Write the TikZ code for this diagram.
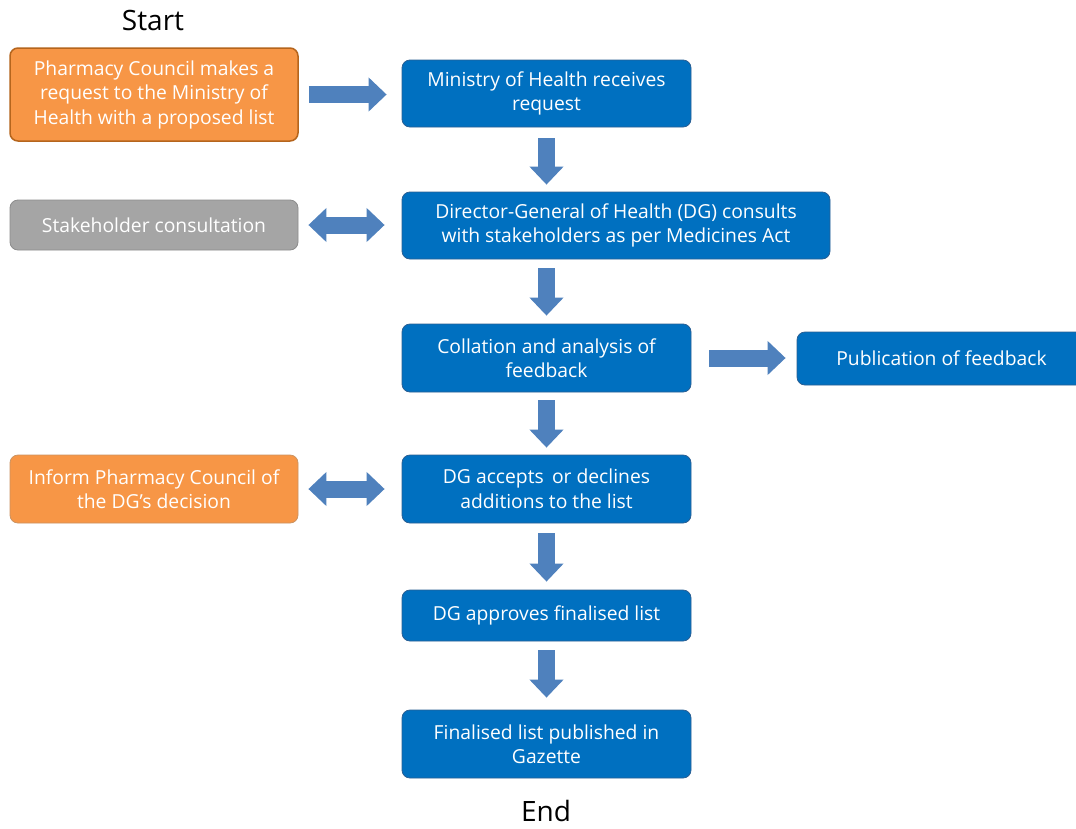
\documentclass[tikz,border=0pt]{standalone}
\usepackage{fontspec}
\setmainfont{Open Sans}
\usetikzlibrary{arrows.meta}
\definecolor{boxblue}{HTML}{0070C0}
\definecolor{boxblueline}{HTML}{2A5F93}
\definecolor{arrblue}{HTML}{4F81BD}
\definecolor{orfill}{HTML}{F79646}
\definecolor{orline}{HTML}{B5651D}
\definecolor{grfill}{HTML}{A5A5A5}
\definecolor{grline}{HTML}{8C8C8C}
\tikzset{
  box/.style={rounded corners=8pt, text=white, align=center, inner sep=1pt,
    font=\fontsize{19.3}{24.5}\selectfont},
  bluebox/.style={box, fill=boxblue, draw=boxblueline, line width=0.8pt},
  orbox/.style={box, fill=orfill, draw=orline, line width=1.5pt},
  orboxb/.style={box, fill=orfill, draw=orline!70, line width=0.8pt},
  grbox/.style={box, fill=grfill, draw=grline, line width=0.8pt},
  barrow/.style={draw=arrblue, line width=17pt, -{Triangle[width=33pt,length=18pt,fill=arrblue]}},
  dbarrow/.style={draw=arrblue, line width=17pt, {Triangle[width=33pt,length=18pt,fill=arrblue]}-{Triangle[width=33pt,length=18pt,fill=arrblue]}},
  title/.style={font=\fontsize{28}{30}\selectfont, text=black}
}
\begin{document}
\begin{tikzpicture}[x=1pt,y=-1pt]
\clip (0,0) rectangle (1076,828);
\fill[white] (0,0) rectangle (1076,828);

\node[title] (start) at (153,20) {Start};
\node[title] (end) at (546,811) {End};

\node[orbox, minimum width=288pt, minimum height=93pt] (pc) at (154,94.5)
  {Pharmacy Council makes a\\request to the Ministry of\\Health with a proposed list};
\node[bluebox, minimum width=289pt, minimum height=67pt] (moh) at (546.5,93.5)
  {Ministry of Health receives\\request};
\node[grbox, minimum width=288pt, minimum height=50pt] (stake) at (154,225)
  {Stakeholder consultation};
\node[bluebox, minimum width=428pt, minimum height=67pt] (dgc) at (616,225.5)
  {Director-General of Health (DG) consults\\with stakeholders as per Medicines Act};
\node[bluebox, minimum width=289pt, minimum height=68pt] (col) at (546.5,358)
  {Collation and analysis of\\feedback};
\node[bluebox, minimum width=289pt, minimum height=53pt] (pub) at (941.5,358.5)
  {Publication of feedback};
\node[orboxb, minimum width=288pt, minimum height=68pt] (inf) at (154,489)
  {Inform Pharmacy Council of\\the DG’s decision};
\node[bluebox, minimum width=289pt, minimum height=68pt] (dga) at (546.5,489)
  {DG accepts\, or declines\\additions to the list};
\node[bluebox, minimum width=289pt, minimum height=51pt] (dgap) at (546.5,615.5)
  {DG approves finalised list};
\node[bluebox, minimum width=289pt, minimum height=68pt] (fin) at (546.5,744)
  {Finalised list published in\\Gazette};

% horizontal arrows
\draw[barrow, shorten <=10pt, shorten >=15pt] (pc.east) -- (pc.east -| moh.west);
\draw[dbarrow, shorten <=10pt, shorten >=17pt] (stake.east) -- (stake.east -| dgc.west);
\draw[barrow, shorten <=18pt, shorten >=11pt] (col.east) -- (col.east -| pub.west);
\draw[dbarrow, shorten <=10pt, shorten >=17pt] (inf.east) -- (dga.west);

% vertical arrows
\draw[barrow, shorten <=11pt, shorten >=7pt] (moh.south) -- (moh.south |- dgc.north);
\draw[barrow, shorten <=9pt, shorten >=8pt] (moh.south |- dgc.south) -- (col.north);
\draw[barrow, shorten <=8pt, shorten >=7pt] (col.south) -- (dga.north);
\draw[barrow, shorten <=10pt, shorten >=8pt] (dga.south) -- (dgap.north);
\draw[barrow, shorten <=9pt, shorten >=12pt] (dgap.south) -- (fin.north);
\end{tikzpicture}
\end{document}
